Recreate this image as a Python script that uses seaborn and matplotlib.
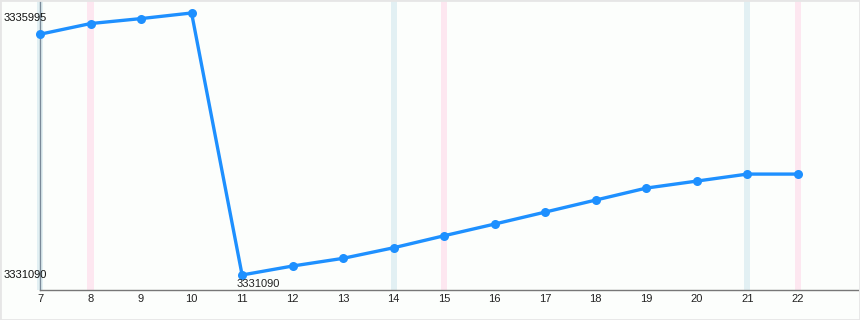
import matplotlib
matplotlib.use("Agg")
import matplotlib.pyplot as plt
import matplotlib.transforms as mtransforms
import seaborn as sns
import pandas as pd

days = [7, 8, 9, 10, 11, 12, 13, 14, 15, 16, 17, 18, 19, 20, 21, 22]
values = [3335597, 3335797, 3335890, 3335995, 3331090, 3331258, 3331402, 3331600,
          3331825, 3332044, 3332268, 3332493, 3332717, 3332848, 3332979, 3332979]
blue_days = [7, 14, 21]
pink_days = [8, 15, 22]
min_label = "3331090"
max_label = "3335995"

df = pd.DataFrame({"day": days, "value": values})

sns.set_theme(style="white")
plt.rcParams['font.family'] = ['Liberation Sans', 'DejaVu Sans']

fig = plt.figure(figsize=(8.6, 3.2), dpi=100, facecolor="#fcfefc")
ax = fig.add_axes([40/860, 30/320, 818/860, 290/320])
ax.set_facecolor("#fcfefc")

for d in blue_days:
    ax.axvspan(d - 0.06, d + 0.06, color="#e2f0f3", zorder=0, lw=0, clip_on=False)
for d in pink_days:
    ax.axvspan(d - 0.06, d + 0.06, color="#fde7f0", zorder=0, lw=0, clip_on=False)

sns.lineplot(data=df, x="day", y="value", ax=ax, color="#1e90ff", lw=2.4,
             marker="o", markersize=6.5, markeredgewidth=0, zorder=3, clip_on=False)

ax.set_xlim(7, 23.19)
ax.set_ylim(3330809, 3336238)
ax.set_xticks(days)
ax.set_xticklabels([str(d) for d in days], fontsize=8, color="#222222")
ax.tick_params(axis="x", length=0, pad=3)
ax.set_yticks([])
ax.set_xlabel("")
ax.set_ylabel("")

for s in ["top", "right"]:
    ax.spines[s].set_visible(False)
ax.spines["bottom"].set_color("#777777")
ax.spines["bottom"].set_linewidth(1.0)
ax.spines["left"].set_color("#7a8a99")
ax.spines["left"].set_linewidth(1.0)
ax.spines["left"].set_zorder(2)

offset = mtransforms.offset_copy(ax.get_yaxis_transform(), fig=fig, x=-36, y=0, units="dots")
ax.text(0, max(values), max_label, transform=offset, ha="left", va="top",
        fontsize=8, color="#111111", zorder=5)
ax.text(0, min(values), min_label, transform=offset, ha="left", va="center",
        fontsize=8, color="#111111", zorder=5)

imin = values.index(min(values))
ax.annotate(min_label, (days[imin], values[imin]), xytext=(-4, -3),
            textcoords="offset points", ha="left", va="top", fontsize=8, color="#222222")

fig.patches.append(plt.Rectangle((0, 0), 1, 1, transform=fig.transFigure,
                                 fill=False, edgecolor="#e6e6e6", lw=2))

fig.savefig("out.png", dpi=100, facecolor=fig.get_facecolor())
